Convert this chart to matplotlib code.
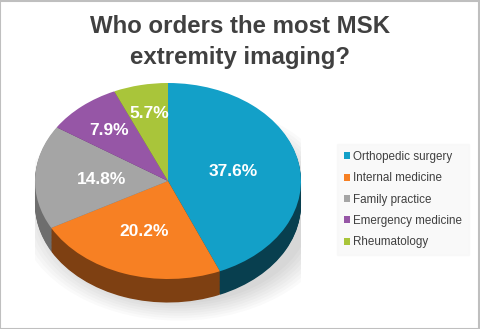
import numpy as np
import matplotlib
matplotlib.use("Agg")
import matplotlib.pyplot as plt
from matplotlib.patches import Rectangle, Ellipse

# data
categories = ["Orthopedic surgery", "Internal medicine", "Family practice",
              "Emergency medicine", "Rheumatology"]
values = [37.6, 20.2, 14.8, 7.9, 5.7]

top_colors = ["#13A0C8", "#F78023", "#A5A5A5", "#9656A6", "#A9C53A"]
side_colors = ["#083F4F", "#7E4012", "#6E6E6E", "#5A3064", "#667A22"]
label_dist = [0.5, 0.55, 0.5, 0.68, 0.7]

plt.rcParams['font.family'] = ['Liberation Sans', 'DejaVu Sans']

W, H = 480, 329
fig = plt.figure(figsize=(W / 100, H / 100), dpi=100)
fig.patches.append(Rectangle((0.001, 0.0015), 0.997, 0.996, transform=fig.transFigure,
                             facecolor="none", edgecolor="#BFBFBF", lw=1.5, zorder=10))

fig.text(0.5, 1 - 15 / H, "Who orders the most MSK\nextremity imaging?",
         ha="center", va="top", fontsize=17.3, fontweight="bold",
         color="#404040", linespacing=1.42)

# pie axes: 1 data unit = 133 px horizontally, 98 px vertically
cx, cy = 168, H - 181
rx, ry = 133, 98
y0, y1 = -1.45, 1.1
ax = fig.add_axes([(cx - rx) / W, (cy + y0 * ry) / H, 2 * rx / W, (y1 - y0) * ry / H])

# soft shadow under the pie
for k in range(8):
    ax.add_patch(Ellipse((0.08, -0.3), 2.0 + 0.06 * k, 1.9 + 0.05 * k,
                         facecolor="#000000", alpha=0.018, lw=0, zorder=0))

# side of the cylinder: stacked darker pies
depth = 0.24
for off in np.linspace(-depth, -0.01, 30):
    ax.pie(values, colors=side_colors, startangle=90, counterclock=False,
           radius=1, center=(0, off), frame=True,
           wedgeprops=dict(linewidth=0))

wedges, _ = ax.pie(values, colors=top_colors, startangle=90, counterclock=False,
                   radius=1, center=(0, 0), frame=True,
                   wedgeprops=dict(linewidth=0))
ax.set_xlim(-1, 1)
ax.set_ylim(y0, y1)
ax.set_aspect("auto")
ax.axis("off")

for w, v, d in zip(wedges, values, label_dist):
    ang = np.deg2rad((w.theta1 + w.theta2) / 2)
    ax.text(d * np.cos(ang), d * np.sin(ang), f"{v:.1f}%", ha="center",
            va="center", color="white", fontsize=12.5, fontweight="bold")

leg = fig.legend(wedges, categories, loc="upper left",
                 bbox_to_anchor=(337 / W, 1 - 144 / H), frameon=True,
                 fontsize=8.4, handlelength=0.55, handleheight=0.55,
                 handletextpad=0.25, labelspacing=0.8, borderpad=0.6,
                 borderaxespad=0)
leg.get_frame().set_facecolor("#F8F8F8")
leg.get_frame().set_edgecolor("#F8F8F8")
leg.get_frame().set_boxstyle("square", pad=0)
for t in leg.get_texts():
    t.set_color("#404040")

fig.savefig("out.png", dpi=100)
